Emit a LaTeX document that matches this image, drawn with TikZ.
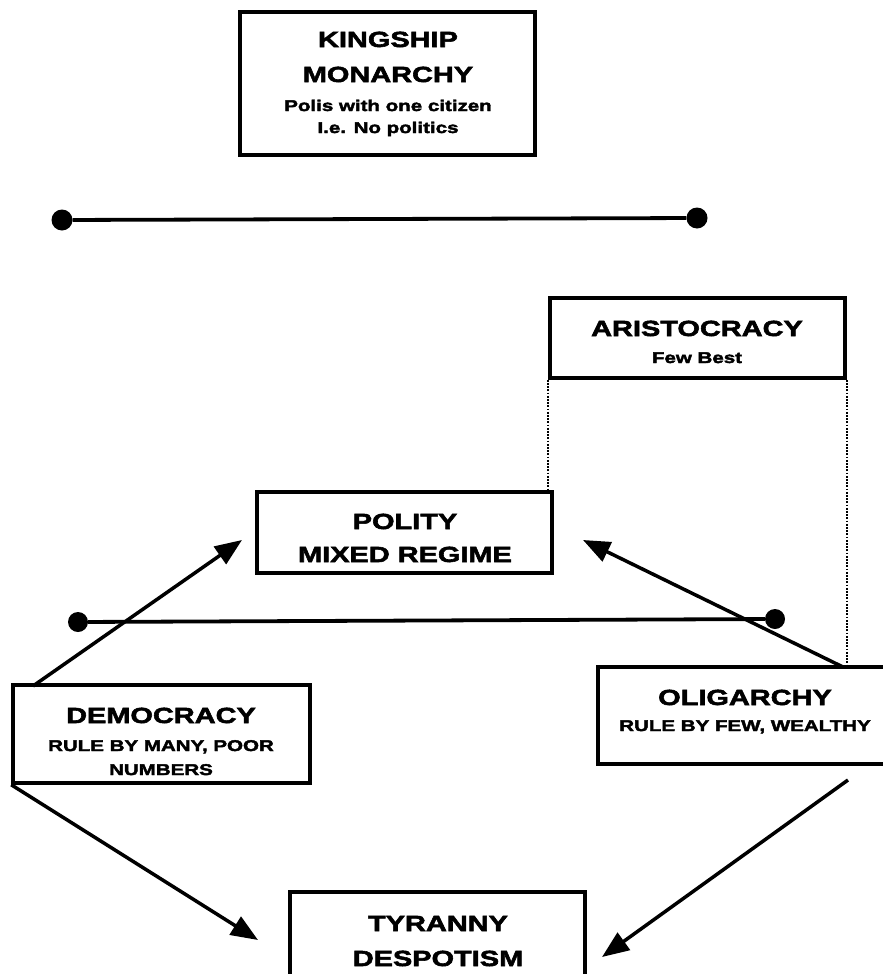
\documentclass[tikz,border=0pt]{standalone}
\usepackage{fontspec}
\usetikzlibrary{arrows.meta}
\newfontfamily\heavy[FakeStretch=1.32,BoldFeatures={FakeBold=2.6}]{Liberation Sans}
\newcommand{\ttl}{\heavy\bfseries\fontsize{22}{24}\selectfont}
\newcommand{\sbt}{\heavy\bfseries\fontsize{15.6}{18}\selectfont}
\begin{document}
\begin{tikzpicture}[x=1bp,y=-1bp,
  box/.style={draw,line width=3.5bp,minimum width=295bp,inner sep=0pt},
  ttext/.style={anchor=base,inner sep=0pt,font=\ttl},
  stext/.style={anchor=base,inner sep=0pt,font=\sbt},
  dotnode/.style={circle,fill=black,inner sep=0pt,minimum size=21bp},
  bar/.style={line width=3.8bp},
  arr/.style={line width=3.5bp,-{Triangle[length=27bp,width=21bp]}},
  dots/.style={line width=2bp,dash pattern=on 1.8bp off 1.4bp}]
\useasboundingbox (0,0) rectangle (883,974);
\clip (0,0) rectangle (883,974);

% boxes
\node[box,minimum height=143bp] (king) at (387.5,83.5) {};
\node[box,minimum height=80bp]  (aristo) at (697.5,338) {};
\node[box,minimum height=81bp]  (polity) at (404.5,532.5) {};
\node[box,minimum width=297bp,minimum height=98bp] (demo) at (161.5,734) {};
\node[box,minimum width=294bp,minimum height=97bp] (olig) at (745,715.5) {};
\node[box,minimum height=108bp] (tyr) at (437.5,946) {};

% texts
\node[ttext] (k1) at (388,47) {KINGSHIP};
\node[ttext] (k2) at (388,82) {MONARCHY};
\node[stext] (k3) at (388,111) {Polis with one citizen};
\node[stext] (k4) at (388,133) {I.e. No politics};
\node[ttext] (a1) at (697,336) {ARISTOCRACY};
\node[stext] (a2) at (697,363) {Few Best};
\node[ttext] (p1) at (405,529) {POLITY};
\node[ttext] (p2) at (405,562) {MIXED REGIME};
\node[ttext] (d1t) at (161,723) {DEMOCRACY};
\node[stext] (d2t) at (161,751) {RULE BY MANY, POOR};
\node[stext] (d3t) at (161,775) {NUMBERS};
\node[ttext] (o1) at (745,705) {OLIGARCHY};
\node[stext] (o2) at (745,731) {RULE BY FEW, WEALTHY};
\node[ttext] (t1) at (438,931) {TYRANNY};
\node[ttext] (t2) at (438,966) {DESPOTISM};

% dotted links from aristocracy
\draw[dots] (aristo.south west) -- (aristo.south west |- polity.north);
\draw[dots] (aristo.south east) -- (aristo.south east |- olig.north);

% bars with dots
\node[dotnode] (b1) at (62,220) {};
\node[dotnode] (b2) at (697,218) {};
\draw[bar] (b1) -- (b2);
\node[dotnode,minimum size=20bp] (m1) at (78,622) {};
\node[dotnode,minimum size=20bp] (m2) at (775,619) {};
\draw[bar] (m1) -- (m2);

% arrows
\coordinate (dTop) at (33,686);
\coordinate (pL) at (242,540);
\coordinate (oTop) at (843,667);
\coordinate (pR) at (583,540);
\coordinate (tL) at (258,940);
\coordinate (oB) at (848,780);
\coordinate (tR) at (602,957);
\draw[arr] (dTop) -- (pL);
\draw[arr] (oTop) -- (pR);
\draw[arr] (demo.south west) -- (tL);
\draw[arr] (oB) -- (tR);
\end{tikzpicture}
\end{document}
